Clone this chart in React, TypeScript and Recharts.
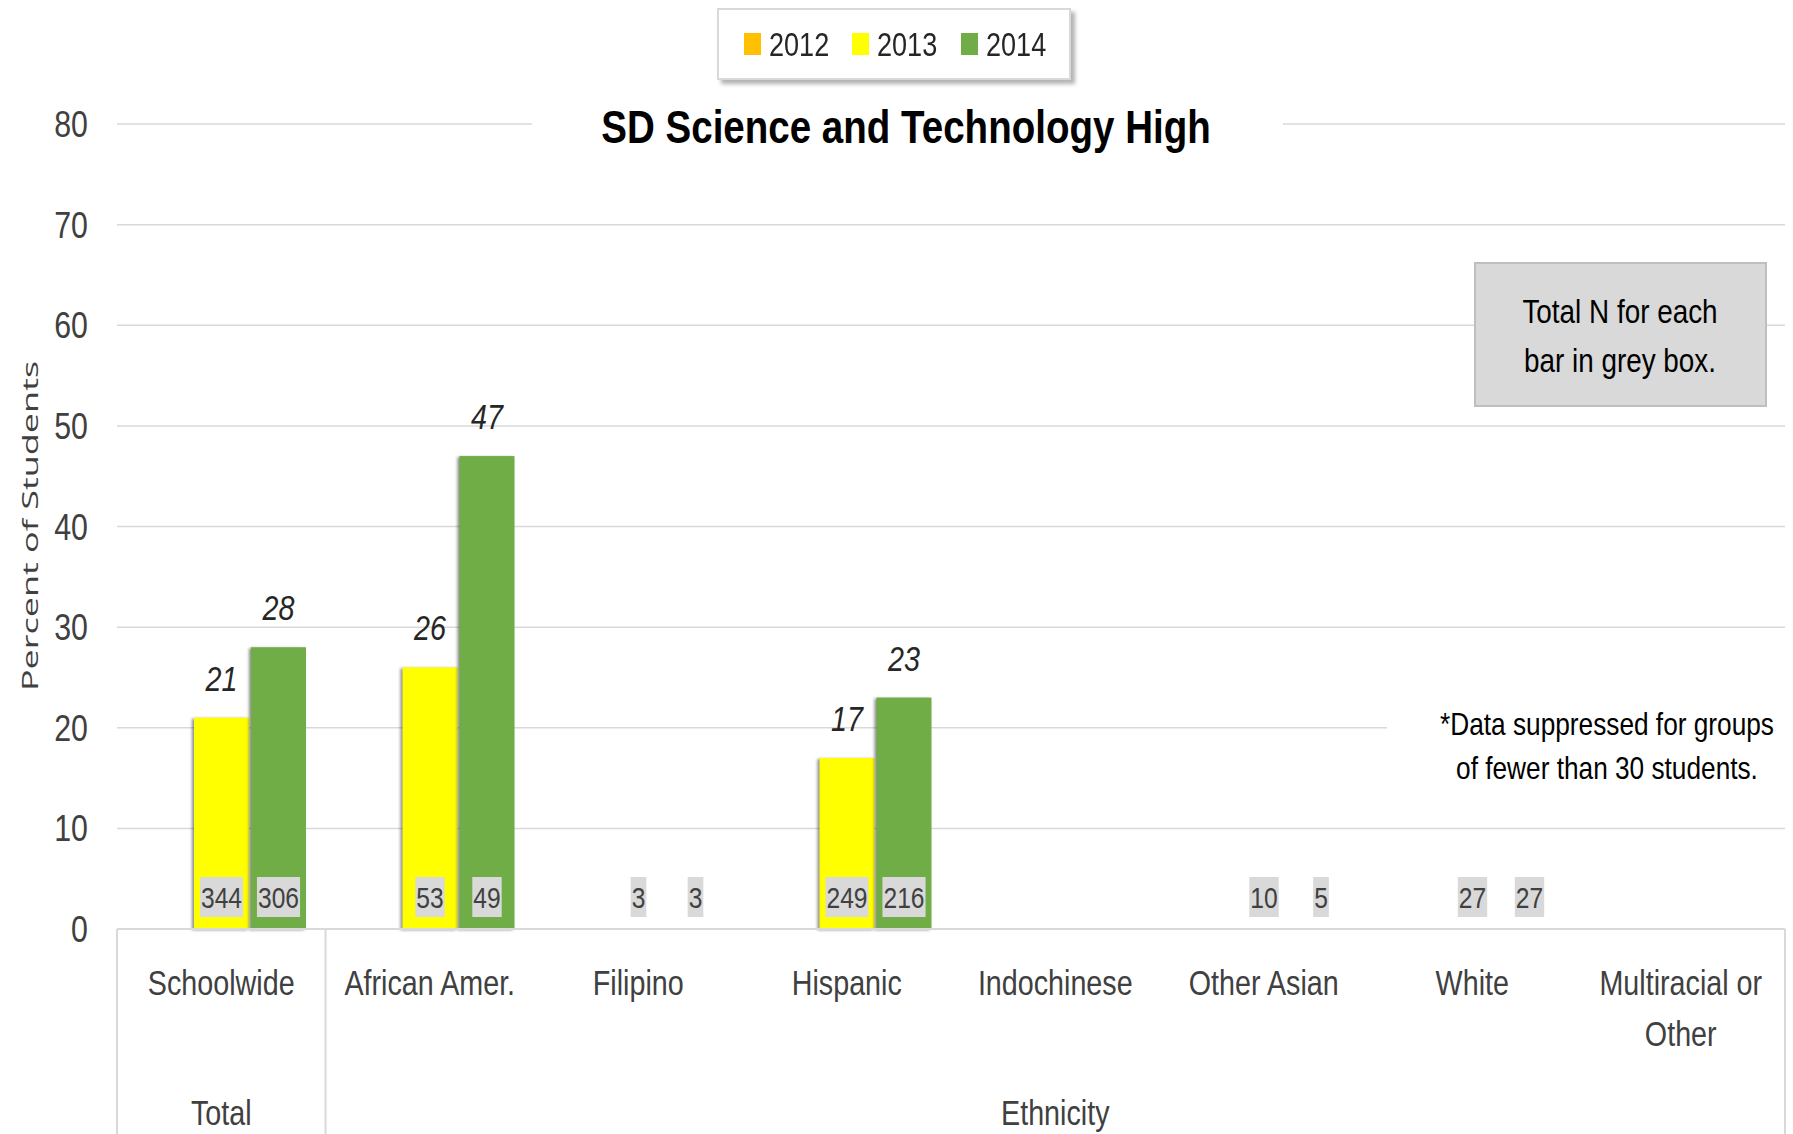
import React from 'react';
import { BarChart, Bar, XAxis, YAxis, CartesianGrid, Legend, LabelList } from 'recharts';

const FONT = "'Liberation Sans', Arial, sans-serif";
const SX = 0.82; // horizontal condensing of the Calibri-like lettering

const categories = ['Schoolwide', 'African Amer.', 'Filipino', 'Hispanic', 'Indochinese', 'Other Asian', 'White', 'Multiracial or Other'];
const categoryLabelLines = [['Schoolwide'], ['African Amer.'], ['Filipino'], ['Hispanic'], ['Indochinese'], ['Other Asian'], ['White'], ['Multiracial or', 'Other']];
const groupLabels = [
  { label: 'Total', first: 0, last: 0 },
  { label: 'Ethnicity', first: 1, last: 7 },
];

const years = ['2012', '2013', '2014'];
const yearColors = ['#FFC000', '#FFFF00', '#70AD47'];

// percent of students (null = suppressed / no data)
const pct2012 = [null, null, null, null, null, null, null, null];
const pct2013 = [21, 26, null, 17, null, null, null, null];
const pct2014 = [28, 47, null, 23, null, null, null, null];

// total N for each bar (grey boxes)
const n2012 = [null, null, null, null, null, null, null, null];
const n2013 = [344, 53, 3, 249, null, 10, 27, null];
const n2014 = [306, 49, 3, 216, null, 5, 27, null];

const yTicks = [0, 10, 20, 30, 40, 50, 60, 70, 80];

const chartTitle = 'SD Science and Technology High';
const yAxisTitle = 'Percent of Students';
const noteBoxLines = ['Total N for each', 'bar in grey box.'];
const suppressionLines = ['*Data suppressed for groups', 'of fewer than 30 students.'];

const data = categories.map((c, i) => ({
  category: c,
  p2012: pct2012[i],
  p2013: pct2013[i],
  p2014: pct2014[i],
  n2012: n2012[i],
  n2013: n2013[i],
  n2014: n2014[i],
}));

const W = 1793;
const H = 1134;

const NText = (props: any) => {
  const { x, y, children, sx = SX, ...rest } = props;
  return (
    <text transform={`translate(${x},${y}) scale(${sx},1)`} x={0} y={0} fontFamily={FONT} {...rest}>{children}</text>
  );
};

const ValueLabel = (props: any) => {
  const { x, y, width, value } = props;
  if (value === null || value === undefined) return null;
  return (
    <NText x={x + width / 2} y={y - 27} textAnchor="middle" fontSize={35} fontStyle="italic" fill="#262626">{value}</NText>
  );
};

const NLabel = (props: any) => {
  const { x, y, width, height, value } = props;
  if (value === null || value === undefined) return null;
  const base = y + (Number.isFinite(height) ? height : 0);
  const text = String(value);
  const tw = text.length * 13.7 + 2;
  const cx = x + width / 2;
  return (
    <g>
      <rect x={cx - tw / 2} y={base - 52} width={tw} height={40} fill="#D9D9D9" />
      <NText x={cx} y={base - 21} textAnchor="middle" fontSize={30} fill="#404040">{text}</NText>
    </g>
  );
};

const BarShape = (props: any) => {
  const { x, y, width, height, fill } = props;
  if (!height || height <= 0) return null;
  return (
    <rect x={x} y={y} width={width} height={height} fill={fill}
      style={{ filter: 'drop-shadow(-2px 1px 1.5px rgba(0,0,0,0.45))' }} />
  );
};

const NoShape = () => null;

const CategoryTick = (props: any) => {
  const { x, y, payload, index, width } = props;
  const band = payload && payload.offset ? payload.offset * 2 : width / categories.length;
  const lines = categoryLabelLines[index] || [String(payload.value)];
  const els: any[] = [];
  lines.forEach((ln, k) => {
    els.push(
      <NText key={'l' + k} x={x} y={y + 66 + k * 51} textAnchor="middle" fontSize={35} fill="#404040">{ln}</NText>
    );
  });
  groupLabels.forEach((g, gi) => {
    if (g.first === index) {
      const gx = x + ((g.last - g.first) * band) / 2;
      els.push(
        <NText key={'g' + gi} x={gx} y={y + 196} textAnchor="middle" fontSize={35} fill="#404040">{g.label}</NText>
      );
      els.push(
        <line key={'s' + gi} x1={x - band / 2} x2={x - band / 2} y1={y} y2={H} stroke="#D9D9D9" strokeWidth={2} />
      );
    }
    if (g.last === index && gi === groupLabels.length - 1) {
      els.push(
        <line key={'e' + gi} x1={x + band / 2} x2={x + band / 2} y1={y} y2={H} stroke="#D9D9D9" strokeWidth={2} />
      );
    }
  });
  return <g>{els}</g>;
};

const ValueTick = (props: any) => {
  const { x, y, payload } = props;
  return (
    <NText x={x} y={y} textAnchor="end" dominantBaseline="central" fontSize={37} fill="#404040">{payload.value}</NText>
  );
};

const LegendContent = () => (
  <div style={{
    boxSizing: 'border-box', width: 354, height: 72, background: '#fff',
    border: '2px solid #D9D9D9', boxShadow: '4px 4px 4px rgba(0,0,0,0.3)',
    display: 'flex', alignItems: 'center', paddingLeft: 25,
  }}>
    {years.map((yr, i) => (
      <div key={yr} style={{ display: 'flex', alignItems: 'center', width: 112 }}>
        <div style={{ width: 17, height: 22, background: yearColors[i], marginRight: 8 }} />
        <span style={{
          display: 'inline-block', fontFamily: FONT, fontSize: 33, color: '#262626', lineHeight: '33px',
          transform: `scaleX(${SX})`, transformOrigin: 'left center',
        }}>{yr}</span>
      </div>
    ))}
  </div>
);

const nKeys = ['n2012', 'n2013', 'n2014'];

export default function App() {
  return (
    <div style={{ position: 'absolute', left: 0, top: 0, width: W, height: H, background: '#fff' }}>
      <BarChart width={W} height={H} data={data}
        margin={{ top: 124, right: 8, bottom: 0, left: 0 }}
        barCategoryGap={20} barGap={2}>
        <CartesianGrid vertical={false} stroke="#D9D9D9" strokeWidth={1.5} />
        <XAxis dataKey="category" type="category" interval={0} height={205}
          axisLine={{ stroke: '#D9D9D9', strokeWidth: 2 }} tickLine={false} tickSize={0} tickMargin={0}
          tick={<CategoryTick />} />
        <XAxis xAxisId="nAxis" dataKey="category" type="category" hide />
        <YAxis type="number" domain={[0, 80]} ticks={yTicks} width={117} axisLine={false}
          tickLine={false} tickSize={0} tickMargin={29} tick={<ValueTick />}
          label={{
            content: () => (
              <text transform="translate(29,526) rotate(-90) scale(1,0.62)" textAnchor="middle"
                dominantBaseline="central" fontSize={36} fontFamily="'Open Sans', sans-serif"
                fill="#404040">{yAxisTitle}</text>
            ),
          }} />
        <Legend layout="horizontal" verticalAlign="middle" align="center"
          wrapperStyle={{ left: 717, top: 8, width: 354, height: 72 }}
          content={<LegendContent />} />
        <Bar dataKey="p2012" name={years[0]} fill={yearColors[0]} isAnimationActive={false} shape={<BarShape />}>
          <LabelList dataKey="p2012" content={<ValueLabel />} />
        </Bar>
        <Bar dataKey="p2013" name={years[1]} fill={yearColors[1]} isAnimationActive={false} shape={<BarShape />}>
          <LabelList dataKey="p2013" content={<ValueLabel />} />
        </Bar>
        <Bar dataKey="p2014" name={years[2]} fill={yearColors[2]} isAnimationActive={false} shape={<BarShape />}>
          <LabelList dataKey="p2014" content={<ValueLabel />} />
        </Bar>
        {nKeys.map((k) => (
          <Bar key={k} xAxisId="nAxis" dataKey={(d: any) => (d[k] === null || d[k] === undefined ? null : 0)}
            fill="none" legendType="none" isAnimationActive={false} shape={<NoShape />}>
            <LabelList dataKey={k} content={<NLabel />} />
          </Bar>
        ))}
      </BarChart>
      <svg width={W} height={H} style={{ position: 'absolute', left: 0, top: 0, pointerEvents: 'none' }}>
        <rect x={532} y={95} width={751} height={60} fill="#fff" />
        <NText x={906} y={143} textAnchor="middle" fontSize={47} fontWeight="bold" fill="#000">{chartTitle}</NText>
        <rect x={1475} y={263} width={291} height={143} fill="#D9D9D9" stroke="#BFBFBF" strokeWidth={2} />
        {noteBoxLines.map((ln, i) => (
          <NText key={ln} x={1620} y={323 + i * 49} textAnchor="middle" fontSize={34} fill="#000">{ln}</NText>
        ))}
        <rect x={1387} y={700} width={398} height={95} fill="#fff" />
        {suppressionLines.map((ln, i) => (
          <NText key={ln} x={1607} y={735 + i * 44} textAnchor="middle" fontSize={32} fill="#000">{ln}</NText>
        ))}
      </svg>
    </div>
  );
}
